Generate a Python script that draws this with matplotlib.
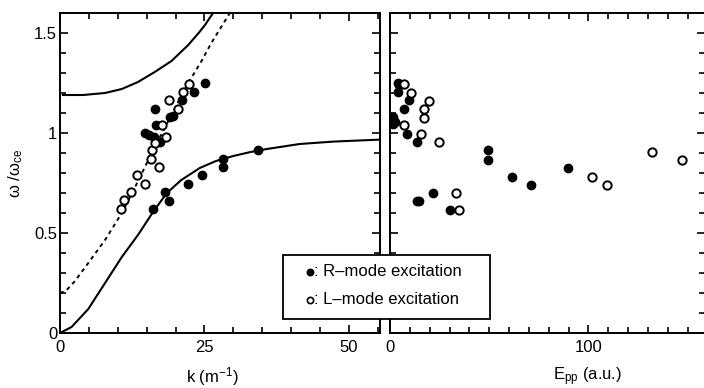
import matplotlib
matplotlib.use("Agg")
import matplotlib.pyplot as plt
from matplotlib.ticker import MultipleLocator, NullFormatter
from matplotlib.lines import Line2D
from matplotlib.patches import Rectangle

plt.rcParams['font.family'] = ['Liberation Sans', 'DejaVu Sans']
plt.rcParams['mathtext.fontset'] = 'custom'
plt.rcParams['mathtext.rm'] = 'Liberation Sans'
plt.rcParams['mathtext.it'] = 'Liberation Sans:italic'

# theory curves
k_low = [0, 2.0, 4.9, 7.8, 10.7, 13.5, 16.1, 18.5, 21.0, 24.2, 27.0, 30.0, 33.0, 35.8, 41.5, 47.3, 55.4]
w_low = [0, 0.03, 0.12, 0.25, 0.38, 0.49, 0.605, 0.70, 0.765, 0.825, 0.86, 0.885, 0.905, 0.92, 0.945, 0.957, 0.967]

k_up = [0.5, 4.0, 7.8, 10.7, 13.5, 16.4, 19.3, 22.2, 24.0, 25.1, 26.5]
w_up = [1.19, 1.19, 1.20, 1.22, 1.255, 1.305, 1.36, 1.44, 1.50, 1.54, 1.60]

k_dot = [0, 1.0, 2.6, 4.9, 7.8, 10.7, 13.0, 16.4, 19.3, 22.0, 24.5, 26.2, 29.4]
w_dot = [0.2, 0.21, 0.26, 0.35, 0.465, 0.6, 0.73, 0.93, 1.09, 1.24, 1.36, 1.45, 1.6]

# measured points, left panel
kR = [14.8, 15.4, 16.5, 16.7, 16.3, 17.3, 19.0, 19.6, 21.2, 23.2, 25.1,
      16.1, 18.2, 18.9, 22.2, 24.5, 28.3, 28.3, 34.3]
wR = [1.00, 0.99, 1.12, 1.04, 0.98, 0.955, 1.08, 1.085, 1.165, 1.205, 1.25,
      0.62, 0.705, 0.66, 0.745, 0.79, 0.87, 0.83, 0.915]
kL = [10.5, 11.1, 12.3, 13.3, 14.7, 15.7, 16.0, 17.2, 16.4, 17.7, 18.3, 18.9, 20.4, 21.3, 22.4]
wL = [0.62, 0.665, 0.705, 0.79, 0.745, 0.87, 0.915, 0.83, 0.95, 1.04, 0.98, 1.165, 1.12, 1.205, 1.245]

# measured points, right panel
ER = [3.9, 4.5, 3.9, 9.6, 7.1, 1.7, 2.5, 1.7, 8.4, 13.8, 49.3, 49.3,
      21.9, 13.5, 14.8, 30.3, 61.4, 71.2, 89.6]
wR2 = [1.25, 1.24, 1.205, 1.165, 1.12, 1.08, 1.055, 1.047, 0.997, 0.955, 0.913, 0.867,
       0.70, 0.66, 0.66, 0.617, 0.78, 0.74, 0.825]
EL = [7.1, 10.6, 19.9, 17.2, 17.3, 7.2, 15.7, 24.7, 33.3, 34.8, 101.8, 109.4, 132.2, 147.3]
wL2 = [1.247, 1.20, 1.16, 1.12, 1.077, 1.04, 0.997, 0.955, 0.70, 0.617, 0.78, 0.74, 0.905, 0.865]

legend_labels = [': R–mode excitation', ': L–mode excitation']

W, H = 704, 388
fig = plt.figure(figsize=(W / 100, H / 100), dpi=100)

def px(x, y):
    # pixel position (from top-left) to figure fraction
    return x / W, 1 - y / H

ax1 = fig.add_axes([60 / W, 1 - 333 / H, 320 / W, 320 / H])
ax2 = fig.add_axes([390 / W, 1 - 333 / H, 315 / W, 320 / H])

fs = 12
ms = 6

def style(ax):
    for s in ax.spines.values():
        s.set_linewidth(1.4)
    ax.tick_params(which='both', direction='in', top=True, right=True, width=1.2,
                   labelsize=fs)
    ax.tick_params(which='major', length=6)
    ax.tick_params(which='minor', length=4)
    ax.tick_params(axis='x', pad=5)
    ax.tick_params(axis='y', pad=2)
    ax.set_ylim(0, 1.6)
    ax.yaxis.set_major_locator(MultipleLocator(0.5))
    ax.yaxis.set_minor_locator(MultipleLocator(0.1))

style(ax1)
style(ax2)

# left panel
ax1.plot(k_low, w_low, color='black', lw=1.5)
ax1.plot(k_up, w_up, color='black', lw=1.5)
ax1.plot(k_dot, w_dot, color='black', lw=1.4, linestyle=(0, (2, 2)))
ax1.plot(kR, wR, 'o', color='black', ms=ms, zorder=3)
ax1.plot(kL, wL, 'o', mfc='white', mec='black', mew=1.4, ms=ms, zorder=3)
ax1.set_xlim(0, 55.4)
ax1.xaxis.set_major_locator(MultipleLocator(25))
ax1.xaxis.set_minor_locator(MultipleLocator(5))
ax1.set_yticks([0, 0.5, 1, 1.5])
ax1.set_yticklabels(['0', '0.5', '1', '1.5'])
ax1.set_xlabel('k (m$^{-1}$)', fontsize=fs)
ax1.xaxis.set_label_coords(0.476, -0.1)
ax1.set_ylabel(r'ω /ω$_{\rm ce}$', fontsize=fs)
ax1.yaxis.set_label_coords(-0.11, 0.5)

# right panel
ax2.plot(ER, wR2, 'o', color='black', ms=ms, zorder=3)
ax2.plot(EL, wL2, 'o', mfc='white', mec='black', mew=1.4, ms=ms, zorder=3)
ax2.set_xlim(0, 158.8)
ax2.xaxis.set_major_locator(MultipleLocator(100))
ax2.xaxis.set_minor_locator(MultipleLocator(10))
ax2.yaxis.set_major_formatter(NullFormatter())
ax2.set_xlabel('E$_{\\rm pp}$ (a.u.)', fontsize=fs)
ax2.xaxis.set_label_coords(0.628, -0.1)

# legend box over both panels
x0, y0 = px(283, 319)
x1, y1 = px(490, 255)
fig.add_artist(Rectangle((x0, y0), x1 - x0, y1 - y0, transform=fig.transFigure,
                         facecolor='white', edgecolor='black', lw=1.3, zorder=5))
for row, (lab, filled) in enumerate(zip(legend_labels, [True, False])):
    mx, my = px(310, 271.5 + 28.5 * row)
    fig.add_artist(Line2D([mx], [my], transform=fig.transFigure, marker='o', ls='none',
                          mfc='black' if filled else 'white', mec='black', mew=1.2,
                          ms=4.5, zorder=6))
    tx, ty = px(314, 271.5 + 28.5 * row)
    fig.text(tx, ty, lab, fontsize=fs, ha='left', va='center', zorder=6)

fig.savefig('out.png', dpi=100)
